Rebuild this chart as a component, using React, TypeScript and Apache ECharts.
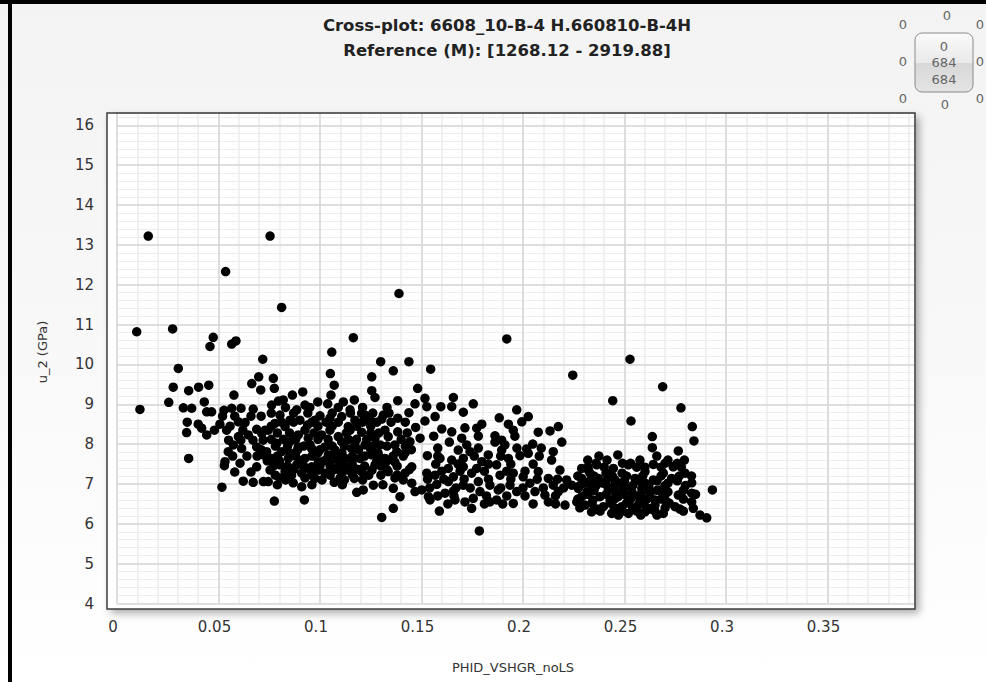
import React, { useEffect, useRef } from "react";
import * as echarts from "echarts";

const titleLine1 = "Cross-plot: 6608_10-B-4 H.660810-B-4H";
const titleLine2 = "Reference (M): [1268.12 - 2919.88]";
const xName = "PHID_VSHGR_noLS";
const yName = "u_2 (GPa)";

const X_MIN = 0;
const X_MAX = 0.3931;
const Y_MIN = 4;
const Y_MAX = 16.31;

const leftGroup: number[][] = [
  [0.0154,13.22],[0.0535,12.33],[0.0097,10.82],[0.0274,10.89],[0.0474,10.68],[0.0458,10.45],[0.0586,10.59],[0.0565,10.51],[0.0718,10.13],[0.0302,9.90],[0.0698,9.69],[0.0664,9.52],[0.0277,9.43],[0.0353,9.34],[0.0402,9.43],[0.0452,9.48],[0.0576,9.23],[0.0708,9.36],[0.0255,9.05],[0.0113,8.87],[0.0327,8.91],[0.0368,8.90],[0.043,9.06],[0.0442,8.81],[0.0466,8.81],[0.0527,8.85],[0.0565,8.90],[0.0611,8.90],[0.0671,8.88],[0.0346,8.55],[0.04,8.50],[0.0442,8.23],[0.0343,8.29],[0.0417,8.40],[0.0507,8.50],[0.0557,8.45],[0.0598,8.56],[0.0631,8.54],[0.0688,8.37],[0.0598,8.19],[0.0647,8.23],[0.0713,8.27],[0.0573,7.98],[0.0548,7.81],[0.0614,7.89],[0.0688,7.93],[0.0721,7.73],[0.0532,7.56],[0.0529,7.46],[0.0606,7.52],[0.0688,7.43],[0.0353,7.64],[0.0622,7.07],[0.0671,7.04],[0.0721,7.06],[0.0517,6.92],
  [0.052,8.70],[0.058,8.70],[0.066,8.70],[0.071,8.70],[0.048,8.35],[0.054,8.35],[0.062,8.35],[0.073,8.35],[0.055,8.10],[0.061,8.10],[0.067,8.10],[0.072,8.10],[0.057,7.70],[0.064,7.70],[0.069,7.70],[0.058,7.30],[0.066,7.30]
];

const midGroup: number[][] = [
  [0.0754,13.22],[0.0811,11.43],[0.1389,11.78],[0.1164,10.67],[0.1058,10.31],[0.1299,10.07],[0.1438,10.07],[0.1361,9.84],[0.1051,9.77],[0.1255,9.69],[0.077,9.65],[0.0775,9.40],[0.107,9.48],[0.1481,9.40],[0.1255,9.34],[0.1271,9.17],[0.0915,9.31],[0.0864,9.23],[0.0819,9.11],[0.0795,9.08],[0.0762,8.98],[0.1054,9.23],[0.0989,9.06],[0.1038,9.01],[0.1115,9.06],[0.1169,9.11],[0.1383,9.09],[0.1468,9.01],[0.0926,8.98],[0.0885,8.86],[0.1148,8.86],[0.1205,8.77],[0.1222,8.73],[0.1438,8.79],[0.0803,8.73],[0.1,8.71],[0.1049,8.65],[0.1107,8.69],[0.1312,8.73],[0.1304,8.63],[0.1383,8.65],[0.0778,8.52],[0.0939,8.48],[0.0901,8.60],[0.1139,8.44],[0.1471,8.42],[0.0745,8.35],[0.0828,8.44],[0.1008,8.23],[0.109,8.19],[0.1205,8.30],[0.1383,8.31],[0.0893,8.23],[0.0942,8.15],[0.0787,8.02],[0.0852,8.06],[0.1107,8.06],[0.1271,8.15],[0.1336,8.19],[0.1443,8.06],[0.0737,7.81],[0.0811,7.81],[0.0893,7.93],[0.0959,7.89],[0.1025,7.93],[0.1074,7.85],[0.1156,7.89],[0.1222,7.98],[0.1296,7.98],[0.1378,7.81],[0.0762,7.64],[0.0844,7.64],[0.0926,7.64],[0.0992,7.56],[0.1041,7.73],[0.1123,7.64],[0.1197,7.64],[0.1255,7.73],[0.132,7.64],[0.0803,7.48],[0.0885,7.48],[0.0959,7.43],[0.1082,7.39],[0.1164,7.43],[0.1271,7.48],[0.1452,7.43],[0.0828,7.31],[0.091,7.27],[0.1025,7.27],[0.1107,7.27],[0.1205,7.31],[0.1336,7.31],[0.1419,7.27],[0.0745,7.06],[0.0868,7.03],[0.107,7.04],[0.1169,7.14],[0.1263,6.97],[0.1361,6.89],[0.1452,7.02],[0.091,6.93],[0.1181,6.79],[0.1394,6.68],[0.1213,6.85],[0.0775,6.57],[0.0923,6.60],[0.1361,6.39],[0.1304,6.16],[0.1468,6.81],[0.0975,7.14]
];

const midDense: number[][] = [
  [0.0852,8.60],[0.0975,8.60],[0.1172,8.60],[0.1246,8.60],[0.0926,8.35],[0.1049,8.35],[0.1148,8.35],[0.132,8.35],[0.0951,7.98],[0.1172,7.98],[0.1369,7.98],[0.0852,7.78],[0.099,7.78],[0.1108,7.78],[0.1286,7.78],[0.1419,7.78],[0.1049,7.55],[0.1158,7.55],[0.1369,7.55],[0.0754,7.35],[0.099,7.35],[0.1138,7.35],[0.1256,7.35],[0.0803,7.15],[0.0926,7.15],[0.1099,7.15],[0.1369,7.15],
  [0.083,8.92],[0.095,8.92],[0.109,8.92],[0.121,8.92],[0.133,8.92],
  [0.076,8.78],[0.087,8.78],[0.094,8.78],[0.106,8.78],[0.115,8.78],[0.126,8.78],[0.134,8.78],
  [0.081,8.55],[0.087,8.55],[0.096,8.55],[0.103,8.55],[0.109,8.55],[0.121,8.55],[0.128,8.55],[0.135,8.55],[0.142,8.55],
  [0.076,8.45],[0.099,8.45],[0.106,8.45],[0.118,8.45],[0.125,8.45],
  [0.079,8.28],[0.085,8.28],[0.097,8.28],[0.113,8.28],[0.125,8.28],[0.129,8.28],[0.143,8.28],
  [0.076,8.12],[0.082,8.12],[0.088,8.12],[0.099,8.12],[0.104,8.12],[0.114,8.12],[0.118,8.12],[0.123,8.12],[0.140,8.12],
  [0.078,7.95],[0.084,7.95],[0.092,7.95],[0.106,7.95],[0.112,7.95],[0.126,7.95],[0.133,7.95],[0.142,7.95],
  [0.071,7.86],[0.089,7.86],[0.100,7.86],[0.119,7.86],[0.125,7.86],[0.145,7.86],
  [0.079,7.70],[0.088,7.70],[0.096,7.70],[0.108,7.70],[0.116,7.70],[0.122,7.70],[0.129,7.70],[0.136,7.70],[0.141,7.70],
  [0.074,7.58],[0.080,7.58],[0.090,7.58],[0.102,7.58],[0.109,7.58],[0.128,7.58],[0.133,7.58],
  [0.077,7.45],[0.084,7.45],[0.092,7.45],[0.100,7.45],[0.105,7.45],[0.112,7.45],[0.122,7.45],[0.130,7.45],[0.138,7.45],
  [0.087,7.36],[0.095,7.36],[0.107,7.36],[0.119,7.36],[0.133,7.36],[0.144,7.36],
  [0.078,7.22],[0.086,7.22],[0.096,7.22],[0.105,7.22],[0.116,7.22],[0.124,7.22],[0.130,7.22],[0.138,7.22],
  [0.083,7.10],[0.101,7.10],[0.112,7.10],[0.121,7.10],[0.141,7.10],
  [0.079,6.98],[0.096,6.98],[0.111,6.98],[0.131,6.98]
];

const centerGroup: number[][] = [
  [0.192,10.64],[0.1545,9.88],[0.2245,9.73],[0.1517,9.15],[0.1526,8.94],[0.1657,9.17],[0.1649,8.94],[0.1595,8.94],[0.1755,9.01],[0.1706,8.80],[0.1567,8.69],[0.1517,8.58],[0.1969,8.86],[0.1883,8.66],[0.2026,8.69],[0.1994,8.56],[0.1928,8.50],[0.1797,8.50],[0.1772,8.40],[0.16,8.38],[0.1649,8.31],[0.1714,8.41],[0.1952,8.35],[0.2075,8.30],[0.2133,8.33],[0.2174,8.44],[0.1493,8.15],[0.1637,8.05],[0.1698,8.15],[0.1723,7.98],[0.1862,8.21],[0.1895,8.10],[0.1911,7.98],[0.1862,8.05],[0.2048,8.00],[0.2191,8.05],[0.1681,7.85],[0.1739,7.81],[0.1895,7.85],[0.2018,7.88],[0.2149,7.81],[0.1529,7.71],[0.1649,7.60],[0.1706,7.64],[0.1797,7.56],[0.1829,7.73],[0.1928,7.64],[0.1985,7.71],[0.2026,7.77],[0.2141,7.60],[0.1632,7.39],[0.1706,7.43],[0.1772,7.39],[0.187,7.48],[0.2182,7.35],[0.1526,7.27],[0.1567,7.22],[0.1657,7.18],[0.1747,7.27],[0.1887,7.22],[0.1952,7.27],[0.2001,7.18],[0.2075,7.31],[0.2125,7.14],[0.2215,7.10],[0.1575,6.99],[0.1632,7.06],[0.1706,6.97],[0.178,7.06],[0.1837,6.97],[0.1936,6.97],[0.2034,7.02],[0.2149,6.97],[0.224,6.97],[0.1501,6.85],[0.1616,6.77],[0.1657,6.82],[0.1788,6.81],[0.1878,6.85],[0.1969,6.81],[0.2059,6.81],[0.2108,6.72],[0.2174,6.81],[0.1534,6.68],[0.1542,6.60],[0.1665,6.60],[0.1714,6.55],[0.1755,6.64],[0.187,6.60],[0.1952,6.51],[0.2125,6.55],[0.2207,6.47],[0.1747,6.39],[0.1588,6.32],[0.1785,5.82],[0.1837,6.55],[0.1591,7.64],
  [0.156,8.20],[0.178,8.20],[0.196,8.20],[0.158,7.90],[0.178,7.90],[0.197,7.90],[0.209,7.90],[0.158,7.70],[0.176,7.70],[0.189,7.70],[0.208,7.70],
  [0.157,7.50],[0.168,7.50],[0.183,7.50],[0.194,7.50],[0.205,7.50],[0.160,7.32],[0.169,7.32],[0.181,7.32],[0.192,7.32],[0.201,7.32],
  [0.153,7.12],[0.161,7.12],[0.171,7.12],[0.183,7.12],[0.194,7.12],[0.207,7.12],[0.217,7.12],
  [0.154,6.90],[0.167,6.90],[0.174,6.90],[0.189,6.90],[0.200,6.90],[0.210,6.90],[0.220,6.90],
  [0.158,6.70],[0.166,6.70],[0.182,6.70],[0.192,6.70],[0.201,6.70],[0.216,6.70],
  [0.163,6.50],[0.181,6.50],[0.190,6.50],[0.205,6.50],[0.216,6.50]
];

const rightGroup: number[][] = [
  [0.2527,10.13],[0.2688,9.44],[0.2442,9.09],[0.2778,8.91],[0.2532,8.58],[0.2834,8.44],[0.2637,8.19],[0.2842,8.08],[0.2637,7.91],[0.2765,7.83],[0.2467,7.73],[0.2374,7.70],[0.2319,7.60],[0.2659,7.70],[0.2795,7.60],[0.2519,7.48],[0.2642,7.49],[0.274,7.43],[0.2289,7.39],[0.2363,7.48],[0.2445,7.39],[0.2601,7.31],[0.2798,7.27],[0.2691,7.27],[0.2831,7.03],[0.2933,6.85],[0.2289,7.14],[0.2371,7.14],[0.2453,7.10],[0.2552,7.14],[0.2642,7.10],[0.2732,7.14],[0.2272,6.89],[0.2338,6.93],[0.242,6.89],[0.2502,6.93],[0.2585,6.89],[0.2675,6.85],[0.2765,6.72],[0.2831,6.77],[0.2289,6.68],[0.2379,6.68],[0.2469,6.68],[0.2543,6.72],[0.2626,6.68],[0.27,6.60],[0.2831,6.55],[0.2749,6.43],[0.2839,6.39],[0.2305,6.47],[0.2396,6.43],[0.2486,6.43],[0.2568,6.47],[0.265,6.47],[0.2691,6.26],[0.2338,6.30],[0.2437,6.26],[0.2519,6.26],[0.2601,6.30],[0.2872,6.22],[0.2905,6.15],[0.2265,6.55],[0.2322,7.35]
];

const rightDense: number[][] = [
  [0.233,7.27],[0.2409,7.27],[0.2488,7.27],[0.2305,7.02],[0.2394,7.02],[0.2478,7.02],[0.2601,7.02],[0.2714,7.02],[0.2315,6.80],[0.2453,6.80],[0.2537,6.80],[0.2626,6.80],[0.2714,6.80],[0.2345,6.60],[0.2429,6.60],[0.2576,6.60],[0.265,6.60],[0.2365,6.37],[0.2468,6.37],[0.2626,6.37],[0.2773,6.37],[0.2414,7.60],[0.2576,7.60],[0.2714,7.60],
  [0.236,7.52],[0.249,7.52],[0.253,7.52],[0.270,7.52],[0.276,7.52],
  [0.232,7.42],[0.240,7.42],[0.256,7.42],[0.260,7.42],[0.268,7.42],[0.278,7.42],
  [0.227,7.20],[0.235,7.20],[0.244,7.20],[0.251,7.20],[0.259,7.20],[0.268,7.20],[0.277,7.20],[0.283,7.20],
  [0.233,7.08],[0.241,7.08],[0.250,7.08],[0.257,7.08],[0.266,7.08],[0.276,7.08],
  [0.228,6.96],[0.236,6.96],[0.245,6.96],[0.254,6.96],[0.262,6.96],[0.270,6.96],[0.280,6.96],
  [0.235,6.84],[0.249,6.84],[0.259,6.84],[0.266,6.84],[0.279,6.84],
  [0.232,6.74],[0.241,6.74],[0.250,6.74],[0.258,6.74],[0.270,6.74],[0.285,6.74],
  [0.227,6.62],[0.245,6.62],[0.253,6.62],[0.261,6.62],[0.268,6.62],[0.279,6.62],
  [0.234,6.52],[0.243,6.52],[0.251,6.52],[0.259,6.52],[0.272,6.52],
  [0.228,6.40],[0.245,6.40],[0.254,6.40],[0.261,6.40],[0.270,6.40],
  [0.238,6.32],[0.249,6.32],[0.256,6.32],[0.265,6.32],[0.279,6.32],
  [0.247,6.22],[0.258,6.22],[0.266,6.22]
];

const widgetOuter = ["0", "0", "0", "0", "0", "0", "0", "0"];
const widgetInner = ["0", "684", "684"];

const FONT = "DejaVu Sans, Verdana, sans-serif";

const fmt = (v: number) => String(parseFloat(v.toFixed(3)));

export default function App() {
  const ref = useRef<HTMLDivElement>(null);

  useEffect(() => {
    document.body.style.margin = "0";
    if (!ref.current) return;
    const chart = echarts.init(ref.current, undefined, { renderer: "svg" });

    const points = [...leftGroup, ...midGroup, ...midDense, ...centerGroup, ...rightGroup, ...rightDense];

    const outerPos = [
      [903, 24], [947, 15], [980, 24],
      [903, 61], [980, 61],
      [903, 98], [945, 104], [980, 98],
    ];
    const innerPos = [46, 62, 79];

    const graphic: any[] = [
      { type: "rect", z: -100, shape: { x: 0, y: 0, width: 986, height: 4 }, style: { fill: "#000" } },
      { type: "rect", z: -100, shape: { x: 8, y: 0, width: 4, height: 682 }, style: { fill: "#000" } },
      {
        type: "rect", z: -50,
        shape: { x: 107, y: 113, width: 808, height: 496 },
        style: { fill: "#ffffff", shadowBlur: 8, shadowOffsetX: 4, shadowOffsetY: 4, shadowColor: "rgba(0,0,0,0.35)" },
      },
      {
        type: "rect", z: 100,
        shape: { x: 107, y: 113, width: 808, height: 496 },
        style: { fill: "none", stroke: "#3c3c3c", lineWidth: 1.5 },
      },
      {
        type: "text", z: 100, x: 507, y: 25,
        style: { text: titleLine1, fontFamily: FONT, fontWeight: "bold", fontSize: 16.5, fill: "#222", align: "center", verticalAlign: "middle" },
      },
      {
        type: "text", z: 100, x: 507, y: 50,
        style: { text: titleLine2, fontFamily: FONT, fontWeight: "bold", fontSize: 16.5, fill: "#222", align: "center", verticalAlign: "middle" },
      },
      {
        type: "text", z: 100, x: 513, y: 667,
        style: { text: xName, fontFamily: FONT, fontSize: 13, fill: "#333", align: "center", verticalAlign: "middle" },
      },
      {
        type: "text", z: 100, x: 42, y: 352, rotation: Math.PI / 2,
        style: { text: yName, fontFamily: FONT, fontSize: 13, fill: "#333", align: "center", verticalAlign: "middle" },
      },
      {
        type: "rect", z: 50,
        shape: { x: 915, y: 33, width: 58, height: 59, r: 7 },
        style: {
          fill: new echarts.graphic.LinearGradient(0, 0, 0, 1, [
            { offset: 0, color: "#fbfbfb" },
            { offset: 0.5, color: "#e9e9e9" },
            { offset: 0.51, color: "#d8d8d8" },
            { offset: 1, color: "#e4e4e4" },
          ]),
          stroke: "#8a8a8a",
          lineWidth: 1,
        },
      },
    ];
    widgetOuter.forEach((t, i) => {
      graphic.push({
        type: "text", z: 60, x: outerPos[i][0], y: outerPos[i][1],
        style: { text: t, fontFamily: FONT, fontSize: 13, fill: "#666", align: "center", verticalAlign: "middle" },
      });
    });
    widgetInner.forEach((t, i) => {
      graphic.push({
        type: "text", z: 60, x: 944, y: innerPos[i],
        style: { text: t, fontFamily: FONT, fontSize: 13, fill: "#666", align: "center", verticalAlign: "middle" },
      });
    });

    const hidden = { show: false };

    chart.setOption({
      animation: false,
      backgroundColor: "transparent",
      grid: { left: 117, right: 71, top: 113, bottom: 78.5, containLabel: false },
      xAxis: [
        {
          type: "value", min: X_MIN, max: X_MAX, interval: 0.05, position: "bottom", z: 2,
          axisLine: hidden, axisTick: hidden,
          splitLine: { show: true, lineStyle: { color: "#d6d6d6", width: 1.5 } },
          axisLabel: {
            show: true, showMaxLabel: false, margin: 16, padding: [0, 8, 0, 0],
            fontFamily: FONT, fontSize: 15, color: "#333", formatter: fmt,
          },
        },
        {
          type: "value", min: X_MIN, max: X_MAX, interval: 0.01, position: "bottom", z: 1,
          axisLine: hidden, axisTick: hidden, axisLabel: hidden,
          splitLine: { show: true, lineStyle: { color: "#ececec", width: 1.5 } },
        },
      ],
      yAxis: [
        {
          type: "value", min: Y_MIN, max: Y_MAX, interval: 1, position: "left", z: 2,
          axisLine: hidden, axisTick: hidden,
          splitLine: { show: true, lineStyle: { color: "#d6d6d6", width: 1.5 } },
          axisLabel: {
            show: true, showMaxLabel: false, margin: 23,
            fontFamily: FONT, fontSize: 15, color: "#333", formatter: fmt,
          },
        },
        {
          type: "value", min: Y_MIN, max: Y_MAX, interval: 0.2, position: "left", z: 1,
          axisLine: hidden, axisTick: hidden, axisLabel: hidden,
          splitLine: { show: true, lineStyle: { color: "#ededed", width: 1 } },
        },
      ],
      graphic,
      series: [
        {
          type: "scatter",
          xAxisIndex: 0,
          yAxisIndex: 0,
          symbol: "circle",
          symbolSize: 9.5,
          itemStyle: { color: "#000", opacity: 1 },
          data: points,
          z: 5,
        },
      ],
    });

    return () => chart.dispose();
  }, []);

  return (
    <div
      ref={ref}
      style={{
        width: 986,
        height: 682,
        background: "linear-gradient(to bottom, #f3f3f3 0%, #f9f9f9 55%, #ffffff 100%)",
      }}
    />
  );
}
